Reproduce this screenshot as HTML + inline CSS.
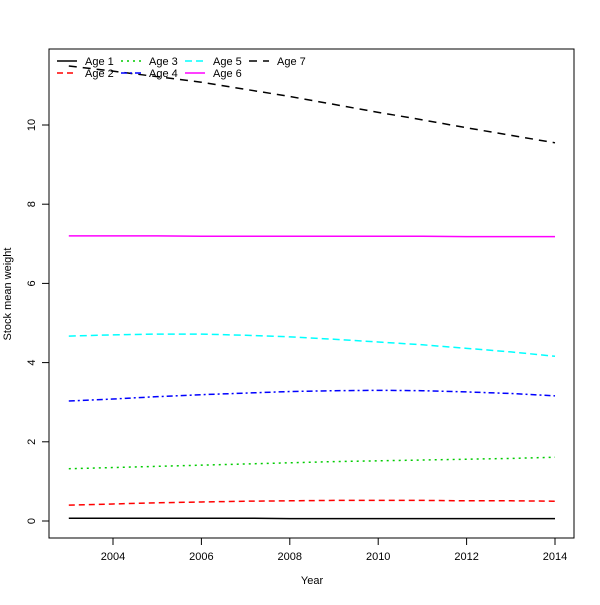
<!DOCTYPE html>
<html><head><meta charset="utf-8"><style>body{margin:0;background:#fff}svg text{font-family:"Liberation Sans",sans-serif;font-size:11px}</style></head>
<body>
<svg id="chart" width="600" height="600">
<rect x="0" y="0" width="600" height="600" fill="#fff"/>
<rect x="49" y="49" width="525" height="489" fill="none" stroke="#000"/>
<g id="axes"></g><g id="series"></g><g id="legend"></g>
<text x="312" y="584" text-anchor="middle">Year</text>
<text transform="translate(11,294) rotate(-90)" text-anchor="middle">Stock mean weight</text>
</svg>
<script>
const years=[2003,2004,2005,2006,2007,2008,2009,2010,2011,2012,2013,2014];
const xTicks=[2004,2006,2008,2010,2012,2014];
const yTicks=[0,2,4,6,8,10];
const names=["Age 1","Age 2","Age 3","Age 4","Age 5","Age 6","Age 7"];
const age1=[0.07,0.07,0.07,0.07,0.07,0.06,0.06,0.06,0.06,0.06,0.06,0.06];
const age2=[0.40,0.43,0.46,0.48,0.50,0.51,0.52,0.52,0.52,0.51,0.51,0.50];
const age3=[1.32,1.35,1.38,1.41,1.44,1.47,1.50,1.52,1.54,1.56,1.58,1.61];
const age4=[3.03,3.08,3.14,3.19,3.23,3.27,3.29,3.30,3.29,3.26,3.22,3.16];
const age5=[4.67,4.70,4.72,4.72,4.69,4.65,4.59,4.52,4.45,4.36,4.27,4.16];
const age6=[7.20,7.20,7.20,7.19,7.19,7.19,7.19,7.19,7.19,7.18,7.18,7.18];
const age7=[11.49,11.36,11.22,11.08,10.90,10.72,10.52,10.32,10.13,9.93,9.74,9.55];
const seriesData=[age1,age2,age3,age4,age5,age6,age7];
const colors=["#000","#f00","#0c0","#00f","#0ff","#f0f","#000"];
const dashes=["","6,4","2,4","6,3,2,3","7,4","","8,6"];
const NS="http://www.w3.org/2000/svg";
const xs=v=>113+(v-2004)*44.2;
const ys=v=>521-v*39.6;
function mk(t,a,p){const e=document.createElementNS(NS,t);for(const k in a)e.setAttribute(k,a[k]);p.appendChild(e);return e;}
const ax=document.getElementById('axes');
xTicks.forEach(t=>{
 const l=mk('line',{x1:xs(t),x2:xs(t),y1:538,y2:545,stroke:'#000'},ax);
 
 
 const tx=mk('text',{x:xs(t),y:560,'text-anchor':'middle'},ax);tx.textContent=t;
 
 
});
yTicks.forEach(t=>{
 const l=mk('line',{x1:42,x2:49,y1:ys(t),y2:ys(t),stroke:'#000'},ax);
 
 
 const tx=mk('text',{transform:`translate(35,${ys(t)}) rotate(-90)`,'text-anchor':'middle'},ax);tx.textContent=t;
 
 
});
const sg=document.getElementById('series');
seriesData.forEach((d,i)=>{
 const p=mk('polyline',{points:d.map((v,j)=>xs(years[j])+','+ys(v)).join(' '),fill:'none',stroke:colors[i],'stroke-width':1.5,'stroke-dasharray':dashes[i]},sg);
 
 
});
const lg=document.getElementById('legend');
names.forEach((n,i)=>{
 const col=Math.floor(i/2),row=i%2;
 const x0=57+col*64,y0=61+row*12;
 const l=mk('line',{x1:x0,x2:x0+20,y1:y0,y2:y0,stroke:colors[i],'stroke-width':1.5,'stroke-dasharray':dashes[i]},lg);
 
 
 const t=mk('text',{x:x0+28,y:y0+4},lg);t.textContent=n;
 
 
});
</script>
</body></html>
